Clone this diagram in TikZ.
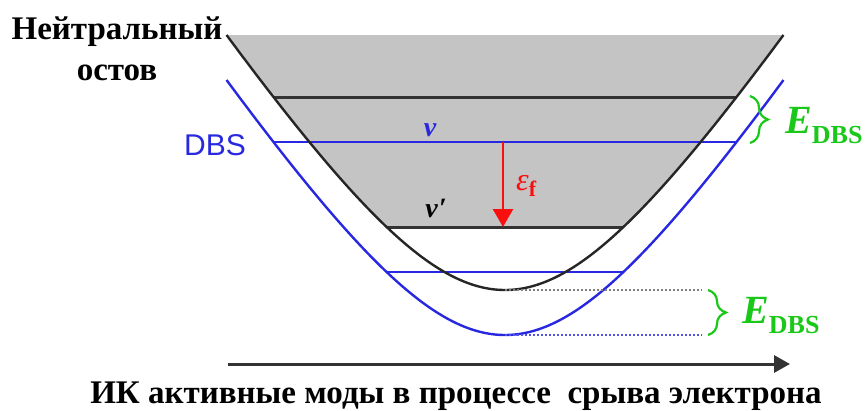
\documentclass[tikz,border=0pt]{standalone}
\usepackage{fontspec}
\setmainfont{Liberation Serif}
\newfontfamily\sansf{Liberation Sans}
\usetikzlibrary{arrows.meta,decorations.pathreplacing}
\definecolor{dbsblue}{RGB}{40,40,225}
\definecolor{egreen}{RGB}{25,200,25}
\definecolor{fillgray}{RGB}{196,196,196}
\definecolor{arrred}{RGB}{250,15,15}
\tikzset{
  curveblack/.style={line width=2.4pt, black!85},
  curveblue/.style={line width=2.4pt, dbsblue},
  levelblack/.style={line width=3pt, black!80},
  levelblue/.style={line width=2.6pt, dbsblue},
  dotline/.style={line width=2pt, dash pattern=on 1.5pt off 2.5pt},
  ebrace/.style={egreen, line width=2.2pt, decorate, decoration={brace, amplitude=18pt}},
  titletext/.style={inner sep=0pt, font=\fontsize{33}{36}\selectfont\bfseries},
  elabel/.style={inner sep=0pt, anchor=base west, text=egreen}
}
\newcommand{\Edbs}{{\fontsize{40}{40}\selectfont\bfseries\itshape E}{\fontsize{26}{26}\selectfont\bfseries\raisebox{-10pt}{DBS}}}
\begin{document}
\begin{tikzpicture}[x=1pt,y=-1pt]
\useasboundingbox (0,0) rectangle (865,410);
% gray fill of neutral core above v'
\begin{scope}
  \clip plot[domain=-278.5:278.5, samples=121, smooth] ({505+\x},{290-230*(sqrt(1+(\x/150)^2)-1)}) -- cycle;
  \fill[fillgray] (200,35) rectangle (800,227);
\end{scope}
% coordinates
\coordinate (b1L) at (273.5,97);  \coordinate (b1R) at (736.5,97);
\coordinate (b2L) at (386.6,227); \coordinate (b2R) at (623.4,227);
\coordinate (u1L) at (273.5,142); \coordinate (u1R) at (736.5,142);
\coordinate (u2L) at (386.6,272); \coordinate (u2R) at (623.4,272);
\coordinate (bmin) at (505,290); \coordinate (umin) at (505,335);
\coordinate (dotB) at (702,290); \coordinate (dotU) at (702,335);
\coordinate (arA) at (503,142); \coordinate (arB) at (503,227);
\coordinate (axA) at (228,364); \coordinate (axB) at (790,364);
% levels
\draw[levelblack] (b1L) -- (b1R);
\draw[levelblack] (b2L) -- (b2R);
\draw[levelblue] (u1L) -- (u1R);
\draw[levelblue] (u2L) -- (u2R);
% curves
\draw[curveblack] plot[domain=-278.5:278.5, samples=121, smooth] ({505+\x},{290-230*(sqrt(1+(\x/150)^2)-1)});
\draw[curveblue] plot[domain=-278.5:278.5, samples=121, smooth] ({505+\x},{335-230*(sqrt(1+(\x/150)^2)-1)});
% dotted
\draw[dotline, gray] (bmin) -- (dotB);
\draw[dotline, dbsblue!80] (umin) -- (dotU);
% red arrow
\draw[arrred, line width=2.6pt, -{Triangle[width=20pt,length=18pt]}] (arA) -- (arB);
\node[text=arrred, inner sep=0pt, anchor=base west] (eps) at (516,190) {{\fontsize{32}{32}\selectfont\itshape ε}{\fontsize{22}{22}\selectfont\bfseries\raisebox{-6pt}{f}}};
% labels
\node[text=dbsblue, inner sep=0pt, anchor=base] (vl) at (430,136) {\fontsize{28}{28}\selectfont\bfseries\itshape v};
\node[text=black, inner sep=0pt, anchor=base] (vpl) at (436,217) {\fontsize{28}{28}\selectfont\bfseries\itshape v\kern1pt′};
\node[text=dbsblue, inner sep=0pt] (dbs) at (215,145) {\sansf\fontsize{30}{30}\selectfont DBS};
\node[titletext, anchor=base] (t1) at (117,39) {Нейтральный};
\node[titletext, anchor=base] (t2) at (117,80) {остов};
% braces
\draw[ebrace] (750,96) -- (750,143);
\node[elabel] (e1) at (785,133) {\Edbs};
\draw[ebrace] (708,290) -- (708,335);
\node[elabel] (e2) at (742,323) {\Edbs};
% axis arrow
\draw[line width=3pt, black!80, -{Triangle[width=17pt,length=16pt]}] (axA) -- (axB);
\node[inner sep=0pt, anchor=base, font=\fontsize{33}{36}\selectfont\bfseries] (xl) at (456,403) {ИК активные моды в процессе\ \ срыва электрона};
\end{tikzpicture}
\end{document}
